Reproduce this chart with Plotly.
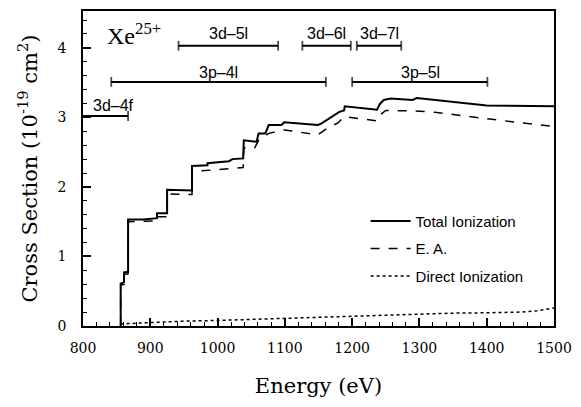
import plotly.graph_objects as go

# ---- data ----
E_total = [856, 856, 861, 861, 867, 867, 890, 910, 910, 925, 925, 945, 962, 962, 985, 985, 1000,
           1017, 1022, 1038, 1039, 1058, 1061, 1071, 1076, 1095, 1099, 1149, 1154, 1164, 1174,
           1181, 1188, 1189, 1237, 1241, 1247, 1257, 1290, 1296, 1400, 1500]
total = [0, 0.61, 0.63, 0.77, 0.78, 1.53, 1.53, 1.55, 1.62, 1.62, 1.96, 1.95, 1.95, 2.30, 2.31, 2.34, 2.35,
         2.37, 2.40, 2.41, 2.67, 2.65, 2.77, 2.77, 2.89, 2.89, 2.93, 2.89, 2.91, 2.97, 3.03,
         3.08, 3.10, 3.16, 3.11, 3.19, 3.25, 3.27, 3.25, 3.28, 3.17, 3.16]

E_ea = [856, 856, 861, 861, 867, 867, 910, 910, 925, 925, 962, 962, 1038, 1039, 1055, 1061, 1076,
        1099, 1149, 1164, 1179, 1188, 1237, 1242, 1250, 1300, 1326, 1400, 1500]
ea = [0, 0.59, 0.60, 0.74, 0.75, 1.50, 1.51, 1.57, 1.57, 1.90, 1.89, 2.22, 2.28, 2.56, 2.56, 2.67, 2.77,
      2.82, 2.75, 2.85, 2.92, 3.01, 2.95, 3.04, 3.10, 3.09, 3.07, 2.98, 2.87]

E_dir = [856, 900, 950, 1000, 1050, 1100, 1150, 1200, 1250, 1300, 1350, 1400, 1450, 1475, 1500]
direct = [0.03, 0.05, 0.07, 0.08, 0.10, 0.11, 0.125, 0.14, 0.16, 0.175, 0.185, 0.19, 0.20, 0.22, 0.26]

# transition ranges: label, start, end, level, label x, label y
trans_labels = ["3d–4f", "3p–4l", "3p–5l", "3d–5l", "3d–6l", "3d–7l"]
trans_start = [800, 842, 1200, 942, 1126, 1207]
trans_end = [867, 1161, 1401, 1090, 1198, 1273]
trans_level = [3.02, 3.51, 3.51, 4.03, 4.03, 4.03]
trans_label_x = [846, 1002, 1301, 1016, 1162, 1240]
trans_label_y = [3.17, 3.65, 3.65, 4.2, 4.2, 4.2]

ion_label = "Xe<sup>25+</sup>"

fig = go.Figure()

fig.add_trace(go.Scatter(x=E_total, y=total, mode="lines", name="Total Ionization",
                         line=dict(color="black", width=2), legendgroup="a"))
fig.add_trace(go.Scatter(x=E_ea, y=ea, mode="lines", name="E. A.",
                         line=dict(color="black", width=1.5, dash="dash"), legendgroup="b"))
fig.add_trace(go.Scatter(x=E_dir, y=direct, mode="lines", name="Direct Ionization",
                         line=dict(color="black", width=1.5, dash="dot"), legendgroup="c"))

for i, lab in enumerate(trans_labels):
    sizes = [0 if trans_start[i] <= 800 else 7, 7]
    fig.add_trace(go.Scatter(x=[trans_start[i], trans_end[i]], y=[trans_level[i]] * 2,
                             mode="lines+markers", showlegend=False,
                             line=dict(color="black", width=2),
                             marker=dict(symbol="line-ns-open", size=sizes,
                                         line=dict(color="black", width=1.8))))
    fig.add_annotation(x=trans_label_x[i], y=trans_label_y[i], text=lab, showarrow=False,
                       xanchor="center", yanchor="middle",
                       font=dict(family="Liberation Sans", size=16, color="black"))

fig.add_annotation(x=876, y=4.2, text=ion_label, showarrow=False, xanchor="center",
                   yanchor="middle", font=dict(family="Liberation Serif", size=24, color="black"))

axis_common = dict(showline=True, linecolor="black", linewidth=1.5, mirror=True,
                   ticks="inside", ticklen=8, tickwidth=1.5, tickcolor="black",
                   showgrid=False, zeroline=False,
                   tickfont=dict(family="DejaVu Serif", size=14, color="black"))

fig.update_xaxes(range=[800, 1500], dtick=100, tick0=800,
                 minor=dict(ticks="inside", ticklen=4, dtick=20, tickwidth=1.2, tickcolor="black"),
                 title=dict(text="Energy (eV)", font=dict(family="DejaVu Serif", size=21, color="black"),
                            standoff=24),
                 ticklabelstandoff=8, **axis_common)
fig.update_yaxes(range=[0, 4.53], dtick=1, tick0=0,
                 minor=dict(ticks="inside", ticklen=4, dtick=0.2, tickwidth=1.2, tickcolor="black"),
                 title=dict(text="Cross Section (10<sup>-19</sup> cm<sup>2</sup>)",
                            font=dict(family="DejaVu Serif", size=21, color="black"), standoff=14),
                 ticklabelstandoff=12, **axis_common)

fig.update_layout(width=581, height=407, margin=dict(l=83, r=22, t=9, b=81),
                  paper_bgcolor="white", plot_bgcolor="white",
                  legend=dict(x=0.60, y=0.385, xanchor="left", yanchor="top",
                              bgcolor="rgba(0,0,0,0)", tracegroupgap=5, itemwidth=40,
                              font=dict(family="Liberation Sans", size=15, color="black")))

fig.write_html("out.html")
